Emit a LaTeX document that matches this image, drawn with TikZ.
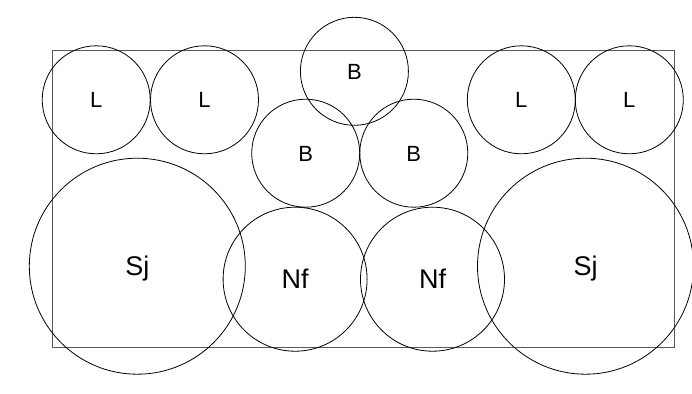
\documentclass[tikz,border=0pt]{standalone}
\usepackage{fontspec}
\setmainfont{Liberation Sans}
\tikzset{
  ring/.style={circle, draw=black, line width=0.8pt, inner sep=0pt, text depth=0pt},
  small/.style={ring, minimum size=108pt, font=\fontsize{22}{26}\selectfont, text height=15.8pt},
  nfring/.style={ring, minimum size=144pt, font=\fontsize{27}{32}\selectfont, text height=19.4pt},
  sjring/.style={ring, minimum size=216pt, font=\fontsize{27}{32}\selectfont, text height=19.4pt},
  frame/.style={draw=black!65, line width=1pt}
}
\begin{document}
\begin{tikzpicture}[x=1pt,y=-1pt]
\useasboundingbox (0,0) rectangle (692,393);
\draw[frame] (52,51) rectangle (674.5,347.5);
\node[small] (l1) at (96.2,99.8) {L};
\node[small] (l2) at (204.5,99.8) {L};
\node[small] (l3) at (521.3,99.8) {L};
\node[small] (l4) at (629.3,99.8) {L};
\node[small] (bt) at (354.4,71.3) {B};
\node[small] (bl) at (305.7,153.2) {B};
\node[small] (br) at (413.8,153.2) {B};
\node[sjring] (sj1) at (137.3,266.2) {Sj};
\node[sjring] (sj2) at (585.5,266.2) {Sj};
\node[nfring] (nf1) at (295.1,279.2) {Nf};
\node[nfring] (nf2) at (432.5,279.2) {Nf};
\end{tikzpicture}
\end{document}
